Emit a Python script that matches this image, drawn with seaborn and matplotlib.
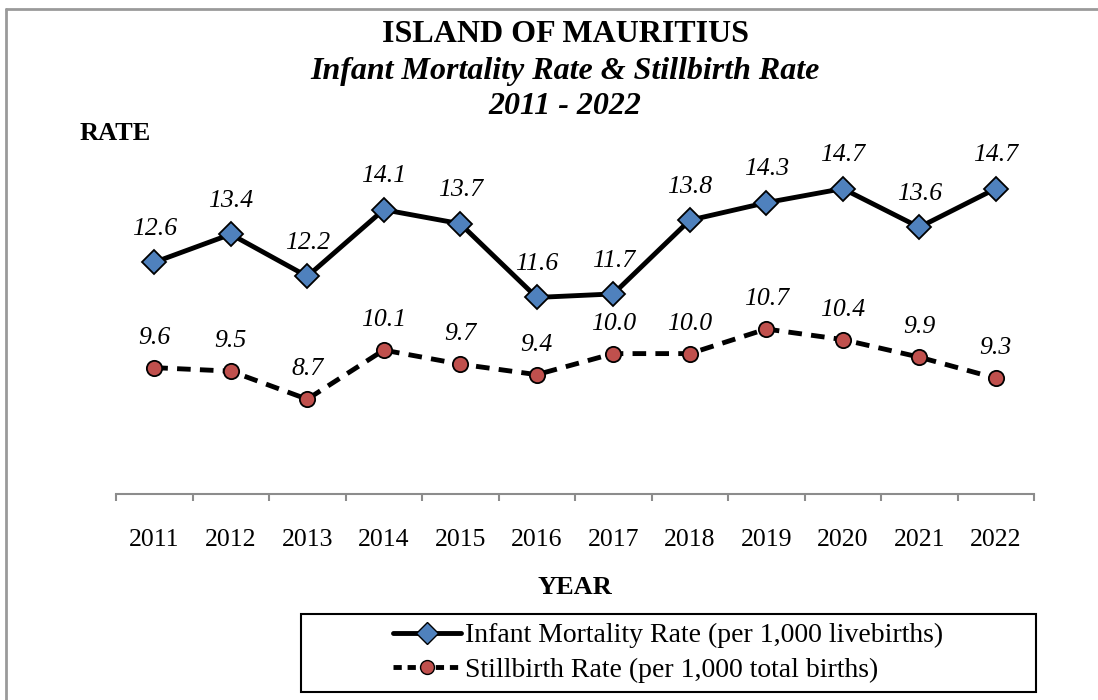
import numpy as np
import pandas as pd
import matplotlib
matplotlib.use("Agg")
import matplotlib.pyplot as plt
from matplotlib.lines import Line2D
from matplotlib.patches import Rectangle
import seaborn as sns

# data
years = ["2011", "2012", "2013", "2014", "2015", "2016",
         "2017", "2018", "2019", "2020", "2021", "2022"]
infant_mortality = [12.6, 13.4, 12.2, 14.1, 13.7, 11.6, 11.7, 13.8, 14.3, 14.7, 13.6, 14.7]
stillbirth = [9.6, 9.5, 8.7, 10.1, 9.7, 9.4, 10.0, 10.0, 10.7, 10.4, 9.9, 9.3]

imr_label = "Infant Mortality Rate (per 1,000 livebirths)"
sbr_label = "Stillbirth Rate (per 1,000 total births)"

sns.set_style("white")
plt.rcParams['font.family'] = ['Liberation Serif', 'DejaVu Serif']
plt.rcParams['text.color'] = 'black'
plt.rcParams['xtick.color'] = 'black'

blue = "#4F81BD"
red = "#C0504D"

W, H = 1098, 700
fig = plt.figure(figsize=(W / 100, H / 100), dpi=100)

def fx(px):
    return px / W

def fy(py):
    return 1 - py / H

# axes box in pixels: x 116..1034, y 143..494
ax = fig.add_axes([fx(116), fy(494), fx(1034 - 116), (494 - 143) / H])

df = pd.DataFrame({"pos": np.arange(len(years)),
                   "imr": infant_mortality, "sbr": stillbirth})

sns.lineplot(data=df, x="pos", y="imr", ax=ax, color="black", lw=3.5,
             marker="D", markersize=12.5, markerfacecolor=blue,
             markeredgecolor="black", markeredgewidth=1.3, zorder=3)
sns.lineplot(data=df, x="pos", y="sbr", ax=ax, color="black", lw=3.5,
             dashes=False, marker="o", markersize=11, markerfacecolor=red,
             markeredgecolor="black", markeredgewidth=1.3, zorder=3)
ax.lines[1].set_dashes([2.8, 1.9])

for i, v in enumerate(infant_mortality):
    ax.annotate(f"{v:.1f}", (i, v), xytext=(0, 24), textcoords="offset points",
                ha="center", va="center", fontsize=18.5, style="italic")
for i, v in enumerate(stillbirth):
    ax.annotate(f"{v:.1f}", (i, v), xytext=(0, 21.5), textcoords="offset points",
                ha="center", va="center", fontsize=18.5, style="italic")

ax.set_xlim(-0.5, len(years) - 0.5)
ax.set_ylim(6, 16)
ax.set_yticks([])
ax.set_xlabel("")
ax.set_ylabel("")
for s in ["top", "right", "left"]:
    ax.spines[s].set_visible(False)
ax.spines["bottom"].set_color("#8c8c8c")
ax.spines["bottom"].set_linewidth(1.5)

# ticks between categories, labels at category centres
ax.set_xticks(np.arange(-0.5, len(years)), labels=[])
ax.set_xticks(np.arange(len(years)), labels=years, minor=True)
ax.tick_params(axis="x", which="major", direction="out", length=5,
               width=1.5, color="#8c8c8c", bottom=True)
ax.tick_params(axis="x", which="minor", length=0, labelsize=18.5, pad=25,
               labelcolor="black")
ax.patch.set_alpha(0)

# titles
fig.text(fx(565), fy(35), "ISLAND OF MAURITIUS", ha="center", va="center",
         fontsize=23, fontweight="bold")
fig.text(fx(565), fy(72), "Infant Mortality Rate & Stillbirth Rate", ha="center",
         va="center", fontsize=23, fontweight="bold", style="italic")
fig.text(fx(565), fy(107), "2011 - 2022", ha="center", va="center",
         fontsize=23, fontweight="bold", style="italic")
fig.text(fx(80), fy(134), "RATE", ha="left", va="center", fontsize=19,
         fontweight="bold")
fig.text(fx(575), fy(588), "YEAR", ha="center", va="center", fontsize=19,
         fontweight="bold")

# outer border (left and top visible)
fig.add_artist(Line2D([fx(6), fx(6)], [0, fy(9)], color="#9a9a9a", lw=2,
                      transform=fig.transFigure))
fig.add_artist(Line2D([fx(6), 1], [fy(9), fy(9)], color="#9a9a9a", lw=2,
                      transform=fig.transFigure))

# legend box
fig.add_artist(Rectangle((fx(301), fy(692)), fx(1036 - 301), (692 - 614) / H,
                         transform=fig.transFigure, fill=False,
                         edgecolor="black", lw=1.5))
handles = [
    Line2D([], [], color="black", lw=3.5, marker="D", markersize=11,
           markerfacecolor=blue, markeredgecolor="black", markeredgewidth=1),
    Line2D([], [], color="black", lw=3.5, dashes=[1.7, 1.2], marker="o",
           markersize=10, markerfacecolor=red, markeredgecolor="black",
           markeredgewidth=1),
]
fig.legend(handles, [imr_label, sbr_label], loc="center",
           bbox_to_anchor=(fx(668), fy(653)), frameon=False, fontsize=20,
           handlelength=2.45, handletextpad=0.12, labelspacing=0.33)

fig.savefig("out.png", dpi=100)
